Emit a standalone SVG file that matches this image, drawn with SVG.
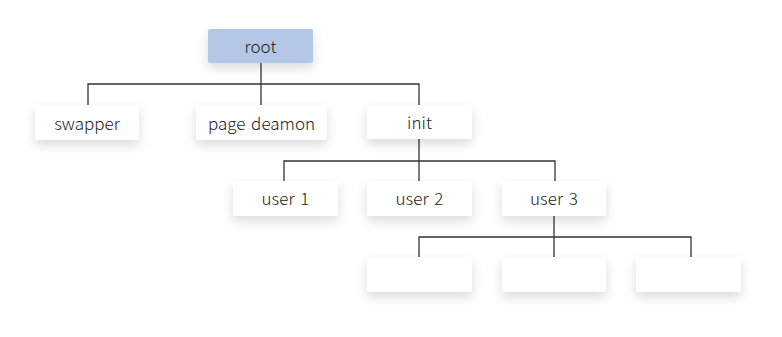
<svg xmlns="http://www.w3.org/2000/svg" width="782" height="337" viewBox="0 0 782 337">
<style>
.box{fill:#ffffff;filter:url(#sh)}
.root{fill:#b4c7e7;filter:url(#sh)}
.lbl{font-family:"Noto Sans CJK KR","Noto Sans",sans-serif;font-size:17px;font-weight:300;fill:#222222;text-anchor:middle;dominant-baseline:central;word-spacing:2px}
.ln{stroke:#333333;stroke-width:1.3;fill:none}
</style>
<defs>
<filter id="sh" x="-30%" y="-40%" width="160%" height="220%">
<feDropShadow dx="0" dy="5" stdDeviation="5.5" flood-color="#000000" flood-opacity="0.14"/>
</filter>
</defs>
<rect width="782" height="337" fill="#ffffff"/>
<g id="connectors">
<path class="ln" d="M261,63 V106 M88,105 V84 H419 V105"/>
<path class="ln" d="M419,139 V182 M284,181 V161 H555 V181"/>
<path class="ln" d="M554,216 V258 M419,257 V237 H691 V257"/>
</g>
<g id="root"><rect class="root" x="208" y="29" width="105" height="34" rx="2"/><text class="lbl" x="260.5" y="45">root</text></g>
<g id="swapper"><rect class="box" x="35" y="105" width="104" height="35" rx="2"/><text class="lbl" x="87" y="122">swapper</text></g>
<g id="pagedeamon"><rect class="box" x="196" y="105" width="131" height="35" rx="2"/><text class="lbl" x="261.5" y="122">page deamon</text></g>
<g id="init"><rect class="box" x="367" y="105" width="105" height="34" rx="2"/><text class="lbl" x="419.5" y="121">init</text></g>
<g id="user1"><rect class="box" x="233" y="181" width="105" height="35" rx="2"/><text class="lbl" x="285.5" y="197.5">user 1</text></g>
<g id="user2"><rect class="box" x="367" y="181" width="105" height="35" rx="2"/><text class="lbl" x="419.5" y="197.5">user 2</text></g>
<g id="user3"><rect class="box" x="502" y="181" width="104" height="35" rx="2"/><text class="lbl" x="554" y="197.5">user 3</text></g>
<g id="child1"><rect class="box" x="367" y="257" width="105" height="35" rx="2"/></g>
<g id="child2"><rect class="box" x="502" y="257" width="104" height="35" rx="2"/></g>
<g id="child3"><rect class="box" x="636" y="257" width="105" height="35" rx="2"/></g>
</svg>
